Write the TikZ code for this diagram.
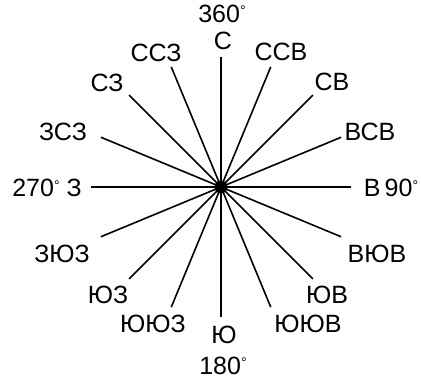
\documentclass[tikz,border=0pt]{standalone}
\usepackage{fontspec}
\setmainfont{Liberation Sans}
\usetikzlibrary{positioning}

\tikzset{
    ray/.style={line width=1.6pt},
    rumb/.style={font=\fontsize{25}{30}\selectfont, inner sep=0pt, text height=18pt, text depth=0pt},
}
\newcommand{\grad}{\raisebox{7pt}{\fontsize{14}{14}\selectfont °}}

\begin{document}
\begin{tikzpicture}[x=1pt,y=1pt]
        \useasboundingbox (-221,-196) rectangle (200,187);
        \begin{scope}
            % centre and ends of the sixteen rays
            \node[circle, fill, inner sep=0pt, minimum size=13pt] (c) at (0,0) {};
            \foreach \i in {0,...,15} {
                \coordinate (r\i) at ({90-22.5*\i}:130);
                \draw[ray] (c.center) -- (r\i);
            }
        \end{scope}
        \begin{scope}
            \node[rumb] (g360) at (1,173) {360\grad};
            \node[rumb] (s) at (2,146.5) {С};
            \node[rumb] (ssv) at (60,135) {ССВ};
            \node[rumb] (sv) at (111,105) {СВ};
            \node[rumb] (vsv) at (149,55) {ВСВ};
            \node[rumb] (v) at (170,-1) {В\,90\grad};
            \node[rumb] (vyuv) at (156,-66) {ВЮВ};
            \node[rumb] (yuv) at (106,-108) {ЮВ};
            \node[rumb] (yuyuv) at (87,-136) {ЮЮВ};
            \node[rumb] (yu) at (3,-148) {Ю};
            \node[rumb] (g180) at (2,-178) {180\grad};
            \node[rumb] (yuyuz) at (-68,-136) {ЮЮЗ};
            \node[rumb] (yuz) at (-113,-108) {ЮЗ};
            \node[rumb] (zyuz) at (-159,-66) {ЗЮЗ};
            \node[rumb] (z) at (-174,-1) {270\grad\ З};
            \node[rumb] (zsz) at (-158,55) {ЗСЗ};
            \node[rumb] (sz) at (-114,104) {СЗ};
            \node[rumb] (ssz) at (-65,134) {ССЗ};
        \end{scope}
\end{tikzpicture}
\end{document}
